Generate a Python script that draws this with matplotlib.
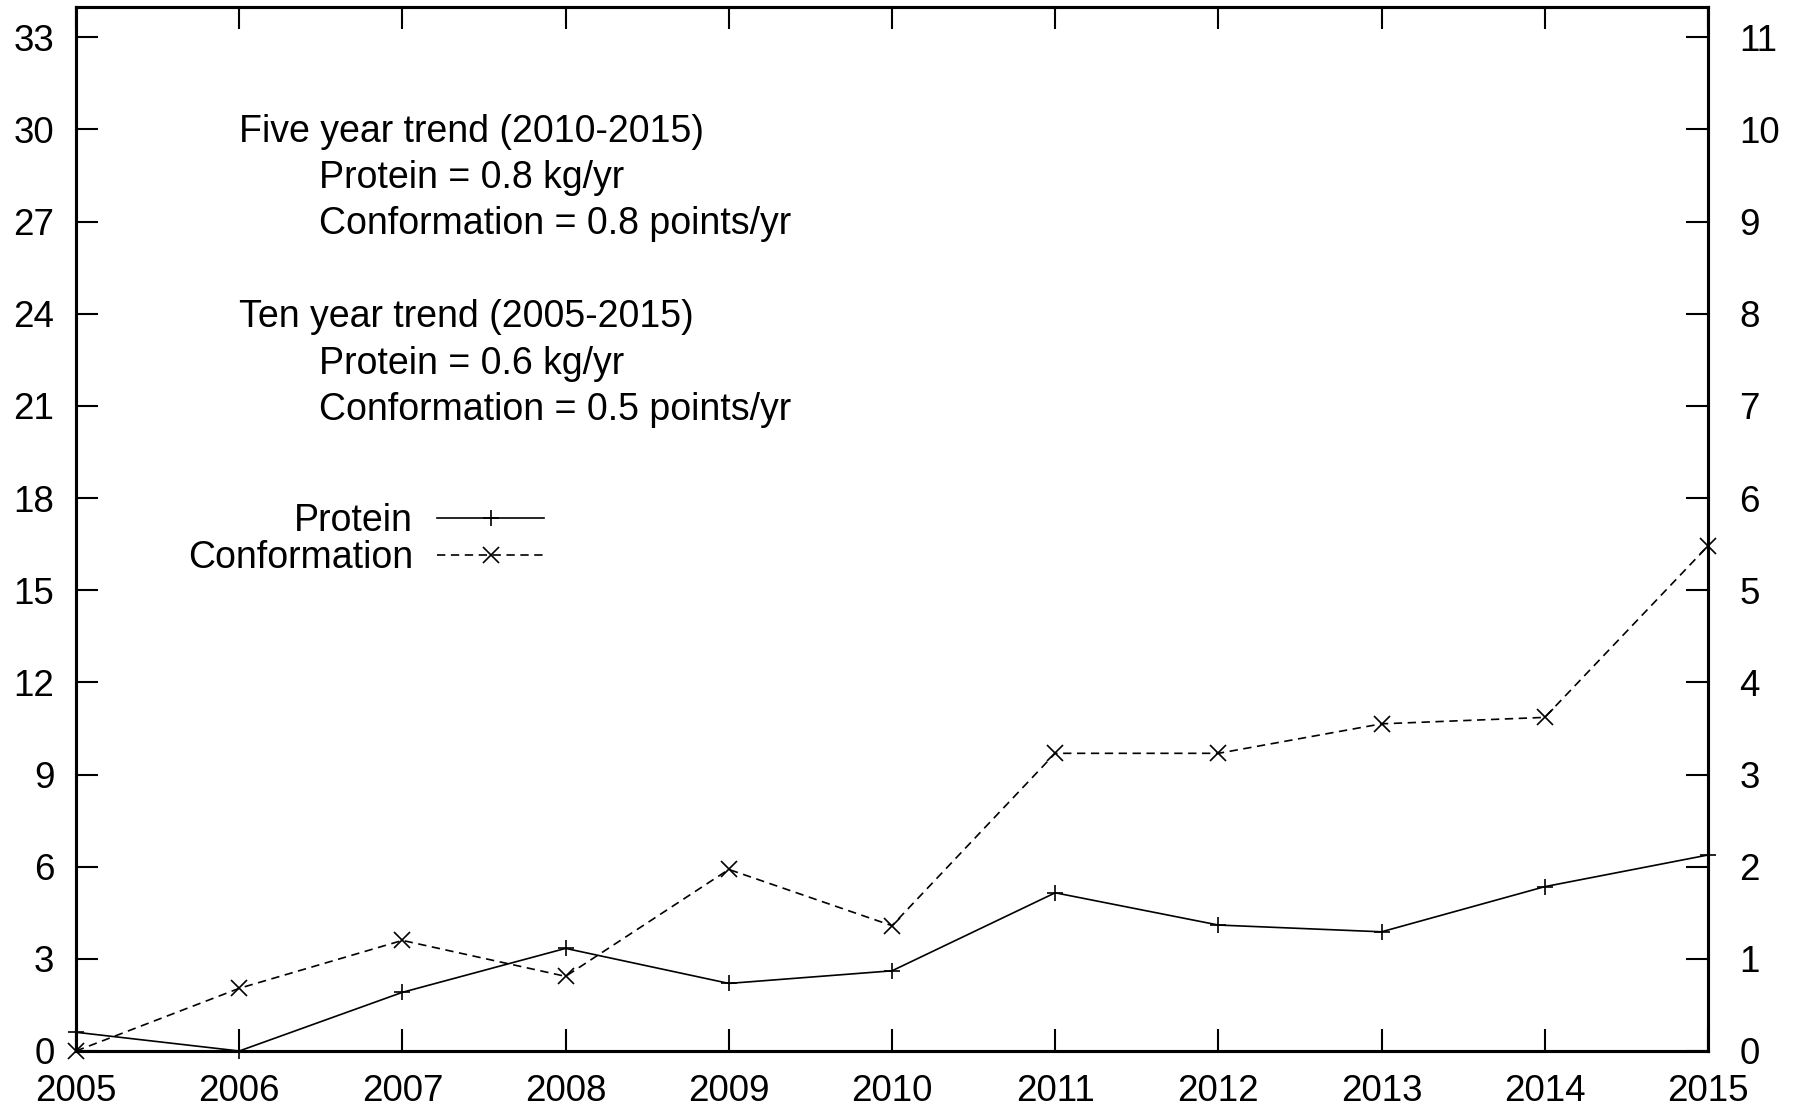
import matplotlib.pyplot as plt

# Data
years = [2005, 2006, 2007, 2008, 2009, 2010, 2011, 2012, 2013, 2014, 2015]
protein = [0.61, 0.0, 1.91, 3.34, 2.20, 2.61, 5.15, 4.10, 3.88, 5.35, 6.38]        # kg, left axis
conformation = [0.0, 0.68, 1.20, 0.81, 1.97, 1.36, 3.23, 3.23, 3.55, 3.62, 5.48]   # points, right axis

left_ticks = list(range(0, 34, 3))
right_ticks = list(range(0, 12))

trend_text = [
    ("Five year trend (2010-2015)", 0),
    ("Protein = 0.8 kg/yr", 1),
    ("Conformation = 0.8 points/yr", 1),
    ("", 0),
    ("Ten year trend (2005-2015)", 0),
    ("Protein = 0.6 kg/yr", 1),
    ("Conformation = 0.5 points/yr", 1),
]

plt.rcParams['font.family'] = ['Liberation Sans', 'DejaVu Sans']
plt.rcParams['font.size'] = 27
plt.rcParams['lines.scale_dashes'] = False

W, H = 1811, 1109
fig = plt.figure(figsize=(W / 100, H / 100), dpi=100)
ax = fig.add_axes([76 / W, 1 - 1051 / H, (1708 - 76) / W, (1051 - 6.5) / H])
ax2 = ax.twinx()

# Protein on the left axis, conformation on the right axis
p_line, = ax.plot(years, protein, color='black', lw=1.2, marker='+', ms=12, mew=1.2,
                  label='Protein', clip_on=False)
c_line, = ax2.plot(years, conformation, color='black', lw=1.2, ls=(0, (6, 4)), marker='x',
                   ms=12, mew=1.2, label='Conformation', clip_on=False)

ax.set_xlim(2005, 2015)
ax.set_ylim(0, 34)
ax2.set_ylim(0, 34 / 3)
ax.set_xticks(years)
ax.set_yticks(left_ticks)
ax2.set_yticks(right_ticks)

ax.tick_params(axis='x', direction='in', length=16, width=1.5, top=True, pad=16.5, labelsize=26.5)
ax.tick_params(axis='y', direction='in', length=16, width=1.5, right=False, pad=15.5, labelsize=26.5)
ax2.tick_params(axis='y', direction='in', length=16, width=1.5, pad=22.5, labelsize=26.5)
for a in (ax, ax2):
    for s in a.spines.values():
        s.set_linewidth(2.2)

# Trend notes
base = 141.7
step = 46.4
for i, (txt, indent) in enumerate(trend_text):
    if not txt:
        continue
    x = 239 if indent == 0 else 319
    fig.text(x / W, 1 - (base + i * step) / H, txt, ha='left', va='baseline')

ax2.legend(handles=[p_line, c_line], loc='center right', markerfirst=False, frameon=False,
           bbox_to_anchor=(544 / W, 1 - 539.5 / H), bbox_transform=fig.transFigure,
           borderpad=0, borderaxespad=0, handlelength=2.85, handletextpad=0.65,
           labelspacing=0.03, numpoints=1)

fig.savefig('out.png', dpi=100)
